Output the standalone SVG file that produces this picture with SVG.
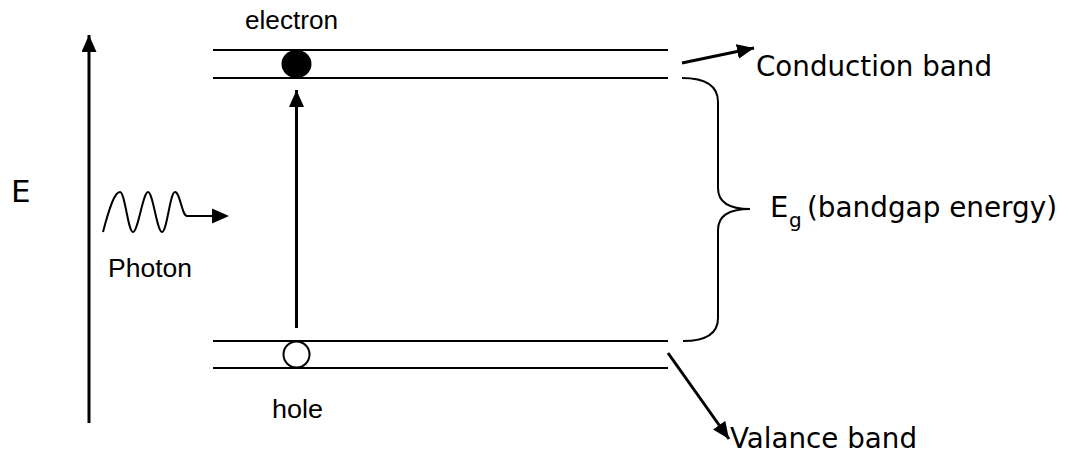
<svg xmlns="http://www.w3.org/2000/svg" width="1069" height="455" viewBox="0 0 1069 455">
<defs>
<marker id="ah" markerUnits="userSpaceOnUse" markerWidth="18" markerHeight="16" refX="17" refY="7.5" orient="auto">
<path d="M0,0 L17,7.5 L0,15 z" fill="#000"/>
</marker>
<marker id="ahs" markerUnits="userSpaceOnUse" markerWidth="18" markerHeight="16" refX="17" refY="7.5" orient="auto">
<path d="M0,0 L17,7.5 L0,15 z" fill="#000"/>
</marker>
<style>
.band{stroke:#000;stroke-width:2;fill:none}
.arr{stroke:#000;stroke-width:3;fill:none}
.thin{stroke:#000;stroke-width:2;fill:none}
.lbl{font-family:"Liberation Sans",Arial,sans-serif;font-size:25px;fill:#000}
.big{font-family:"DejaVu Sans","Liberation Sans",sans-serif;font-size:29px;fill:#000}
</style>
</defs>
<rect width="1069" height="455" fill="#fff"/>
<g id="energy-axis">
<line class="arr" x1="89" y1="423" x2="89" y2="35" marker-end="url(#ah)"/>
<text class="big" x="11" y="202" style="font-size:31px">E</text>
</g>
<g id="conduction-band">
<line class="band" x1="213" y1="50" x2="668" y2="50"/>
<line class="band" x1="213" y1="78" x2="668" y2="78"/>
</g>
<g id="valence-band">
<line class="band" x1="213" y1="341" x2="668" y2="341"/>
<line class="band" x1="213" y1="368" x2="668" y2="368"/>
</g>
<g id="electron">
<ellipse cx="296.5" cy="64" rx="15" ry="14" fill="#000"/>
<text class="lbl" x="245" y="29" textLength="93" lengthAdjust="spacingAndGlyphs">electron</text>
</g>
<g id="hole">
<circle cx="296.5" cy="354.5" r="13" fill="#fff" stroke="#000" stroke-width="2"/>
<text class="lbl" x="272" y="418" textLength="51" lengthAdjust="spacingAndGlyphs">hole</text>
</g>
<g id="photon">
<path class="thin" d="M103,232 C110,205 115,192 120,192 C125,192 128,232 133,232 C138,232 143,192 148,192 C153,192 157,232 162,232 C167,232 170,192 175,192 C180,192 182,216 187,216 L212,216"/>
<polygon points="212,208.5 229,216 212,223.5" fill="#000"/>
<text class="lbl" x="108" y="277" textLength="84" lengthAdjust="spacingAndGlyphs">Photon</text>
</g>
<g id="bandgap">
<path class="thin" d="M682,78 Q718,78 718,102 L718,188 Q718,209 750,209 Q718,209 718,230 L718,318 Q718,341 683,341"/>
<text class="big" x="770" y="217">E</text>
<text class="big" x="789" y="227" style="font-size:20px">g</text>
<text class="big" x="807" y="217" textLength="250" lengthAdjust="spacingAndGlyphs">(bandgap energy)</text>
</g>
<g id="labels">
<text class="big" x="756" y="76" textLength="236" lengthAdjust="spacingAndGlyphs">Conduction band</text>
<text class="big" x="730" y="448" textLength="187" lengthAdjust="spacingAndGlyphs">Valance band</text>
</g>
<g id="connectors">
<line class="arr" x1="296.5" y1="328" x2="296.5" y2="90" marker-end="url(#ah)"/>
<line class="arr" x1="682" y1="63" x2="754" y2="48" marker-end="url(#ahs)"/>
<line class="arr" x1="668" y1="353" x2="729" y2="439" marker-end="url(#ahs)"/>
</g>
</svg>
